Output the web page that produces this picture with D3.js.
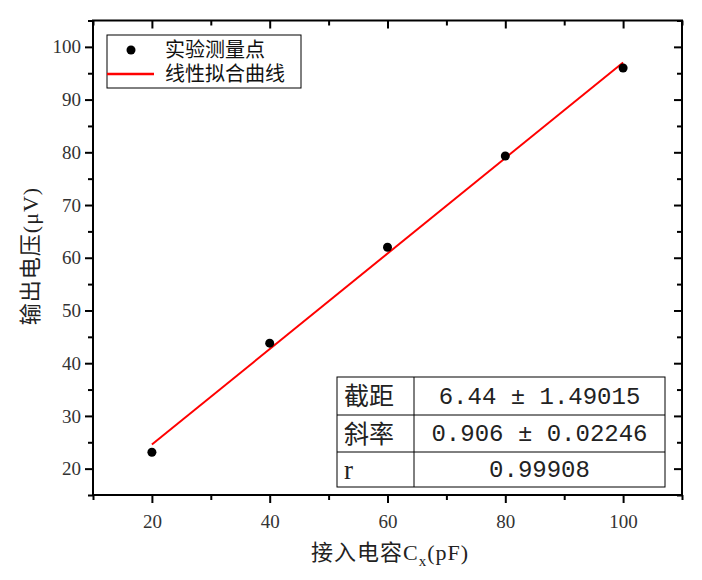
<!DOCTYPE html>
<html>
<head>
<meta charset="utf-8">
<script src="https://cdn.jsdelivr.net/npm/d3@7"></script>
<style>
  body { margin: 0; background: #fff; }
  svg { display: block; }
</style>
</head>
<body>
<svg id="chart" width="702" height="580"></svg>
<script>
'use strict';

// measured points
var capacitance = [20, 40, 60, 80, 100];
var voltage = [23.1, 43.8, 62.0, 79.3, 96.0];

// linear fit result
var fitRange = [20, 100];
var fitIntercept = 6.44;
var fitSlope = 0.906;

// axis ticks
var xMajorTicks = [20, 40, 60, 80, 100];
var xMinorTicks = [10, 30, 50, 70, 90, 110];
var yMajorTicks = [20, 30, 40, 50, 60, 70, 80, 90, 100];
var yMinorTicks = [15, 25, 35, 45, 55, 65, 75, 85, 95, 105];

// legend and fit table text
var legendLabels = ['实验测量点', '线性拟合曲线'];
var tableLabels = ['截距', '斜率', 'r'];
var tableValues = ['6.44 ± 1.49015', '0.906 ± 0.02246', '0.99908'];

var serif = '"Liberation Serif", "Noto Sans CJK SC", serif';
var cjk = '"Noto Sans CJK SC", "Liberation Serif", sans-serif';
var mono = '"Liberation Mono", monospace';

var margins = { top: 20.5, right: 20, bottom: 85, left: 93 };
var width = 702, height = 580;
var chartW = width - margins.left - margins.right;
var chartH = height - margins.top - margins.bottom;

var svg = d3.select('#chart');
var g = svg.append('g')
  .attr('transform', 'translate(' + margins.left + ',' + margins.top + ')');

var x = d3.scaleLinear().domain([10, 110]).range([0, chartW]);
var y = d3.scaleLinear().domain([15, 105]).range([chartH, 0]);

// draws one set of ticks, optionally with labels
function drawAxis(axisFn, scale, ticks, size, labels, transform) {
  var a = g.append('g')
    .attr('transform', transform)
    .call(axisFn(scale).tickValues(ticks).tickSize(size).tickSizeOuter(0)
      .tickFormat(labels ? d3.format('d') : ''));
  a.select('.domain').remove();
  a.selectAll('line').attr('stroke', '#000').attr('stroke-width', 2);
  a.selectAll('text')
    .style('font-family', serif)
    .style('font-size', '19px')
    .attr('fill', '#333');
  return a;
}

// bottom: outward
drawAxis(d3.axisBottom, x, xMajorTicks, 8, true, 'translate(0,' + chartH + ')')
  .selectAll('text').attr('dy', '1.15em');
drawAxis(d3.axisBottom, x, xMinorTicks, 5, false, 'translate(0,' + chartH + ')');
// top: inward
drawAxis(d3.axisBottom, x, xMajorTicks, 8, false, 'translate(0,0)');
drawAxis(d3.axisBottom, x, xMinorTicks, 5, false, 'translate(0,0)');
// left: outward
drawAxis(d3.axisLeft, y, yMajorTicks, 8, true, 'translate(0,0)')
  .selectAll('text').attr('x', -12);
drawAxis(d3.axisLeft, y, yMinorTicks, 5, false, 'translate(0,0)');
// right: inward
drawAxis(d3.axisLeft, y, yMajorTicks, 8, false, 'translate(' + chartW + ',0)');
drawAxis(d3.axisLeft, y, yMinorTicks, 5, false, 'translate(' + chartW + ',0)');

// frame
g.append('rect')
  .attr('width', chartW).attr('height', chartH)
  .attr('fill', 'none').attr('stroke', '#000').attr('stroke-width', 2);

// fit line
var fitPoints = fitRange.map(function (d) { return [d, fitIntercept + fitSlope * d]; });
g.append('path')
  .datum(fitPoints)
  .attr('d', d3.line().x(function (d) { return x(d[0]); }).y(function (d) { return y(d[1]); }))
  .attr('fill', 'none').attr('stroke', '#ff0000').attr('stroke-width', 2);

// points
g.selectAll('circle.pt').data(capacitance).enter().append('circle')
  .attr('class', 'pt')
  .attr('cx', function (d) { return x(d); })
  .attr('cy', function (d, i) { return y(voltage[i]); })
  .attr('r', 4.5)
  .attr('fill', '#000');

// legend
var legend = svg.append('g').attr('transform', 'translate(107,35)');
legend.append('rect')
  .attr('width', 194).attr('height', 53)
  .attr('fill', '#fff').attr('stroke', '#000').attr('stroke-width', 1);
legend.append('circle').attr('cx', 24).attr('cy', 15).attr('r', 4.5).attr('fill', '#000');
legend.append('line')
  .attr('x1', 0).attr('x2', 47).attr('y1', 39).attr('y2', 39)
  .attr('stroke', '#ff0000').attr('stroke-width', 2.5);
legend.selectAll('text').data(legendLabels).enter().append('text')
  .attr('x', 58)
  .attr('y', function (d, i) { return 15 + i * 24; })
  .attr('dy', '0.36em')
  .style('font-family', serif)
  .style('font-size', '20px')
  .attr('fill', '#111')
  .text(function (d) { return d; });

// fit result table
var tableLeft = 337, tableRight = 665, tableCol = 414;
var rowEdges = [377, 415, 452, 487];
var tbl = svg.append('g').attr('class', 'fit-table');
tbl.append('rect')
  .attr('x', tableLeft).attr('y', rowEdges[0])
  .attr('width', tableRight - tableLeft).attr('height', rowEdges[3] - rowEdges[0])
  .attr('fill', '#fff').attr('stroke', '#000').attr('stroke-width', 1);
tbl.append('line')
  .attr('x1', tableCol).attr('x2', tableCol)
  .attr('y1', rowEdges[0]).attr('y2', rowEdges[3])
  .attr('stroke', '#000');
tbl.selectAll('line.row').data(rowEdges.slice(1, 3)).enter().append('line')
  .attr('class', 'row')
  .attr('x1', tableLeft).attr('x2', tableRight)
  .attr('y1', function (d) { return d; }).attr('y2', function (d) { return d; })
  .attr('stroke', '#000');
tbl.selectAll('text.label').data(tableLabels).enter().append('text')
  .attr('class', 'label')
  .attr('x', 344)
  .attr('y', function (d, i) { return (rowEdges[i] + rowEdges[i + 1]) / 2; })
  .attr('dy', '0.36em')
  .style('font-family', serif)
  .style('font-size', function (d) { return d === 'r' ? '27px' : '25px'; })
  .attr('fill', '#222')
  .text(function (d) { return d; });
tbl.selectAll('text.value').data(tableValues).enter().append('text')
  .attr('class', 'value')
  .attr('x', (tableCol + tableRight) / 2)
  .attr('y', function (d, i) { return (rowEdges[i] + rowEdges[i + 1]) / 2; })
  .attr('dy', '0.33em')
  .attr('text-anchor', 'middle')
  .style('font-family', mono)
  .style('font-size', '24px')
  .attr('fill', '#222')
  .text(function (d) { return d; });

// axis titles
var xTitle = svg.append('text')
  .attr('x', 390).attr('y', 560)
  .attr('text-anchor', 'middle')
  .style('font-family', serif)
  .style('font-size', '22px')
  .style('letter-spacing', '1px')
  .attr('fill', '#222');
xTitle.append('tspan').text('接入电容');
xTitle.append('tspan').text('C');
xTitle.append('tspan').attr('dy', 6).style('font-size', '15px').text('x');
xTitle.append('tspan').attr('dy', -6).text('(pF)');

var yTitle = svg.append('text')
  .attr('transform', 'translate(38,256) rotate(-90)')
  .attr('text-anchor', 'middle')
  .style('font-family', serif)
  .style('font-size', '22px')
  .style('letter-spacing', '1px')
  .attr('fill', '#222');
yTitle.append('tspan').text('输出电压');
yTitle.append('tspan').text('(μV)');
</script>
</body>
</html>
